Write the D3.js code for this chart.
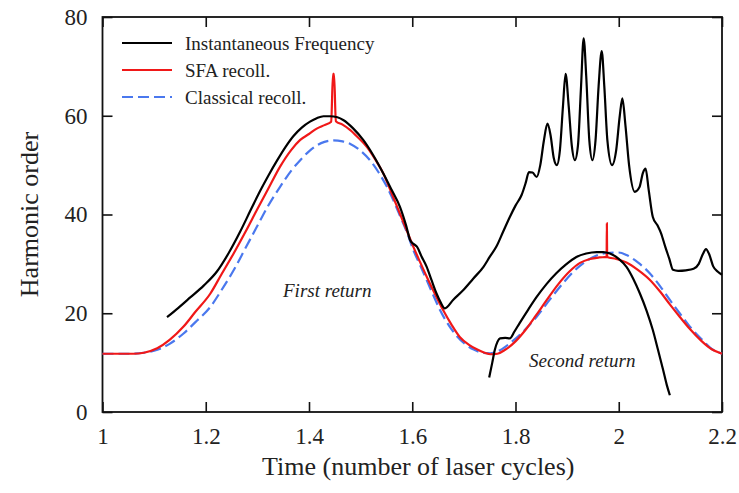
<!DOCTYPE html>
<html>
<head>
<meta charset="utf-8">
<script src="https://cdn.jsdelivr.net/npm/d3@7/dist/d3.min.js"></script>
<style>
  html, body { margin: 0; padding: 0; background: #fff; }
  svg { display: block; }
</style>
</head>
<body>
<svg id="chart" width="739" height="493"></svg>
<script>
// Instantaneous frequency, first branch (time in laser cycles, harmonic order)
const freqFirstT = [1.125,1.147,1.170,1.196,1.222,1.245,1.267,1.287,1.306,1.322,1.338,1.354,1.370,1.386,1.402,1.415,1.428,1.441,1.455,1.467,1.485,1.505,1.525,1.544,1.560,1.576,1.588,1.596,1.603,1.609,1.618,1.628,1.637,1.647,1.655,1.663,1.680,1.699,1.718,1.738,1.750,1.763,1.776,1.789,1.800,1.812,1.820,1.826,1.833,1.841,1.848,1.855,1.862,1.868,1.874,1.880,1.886,1.892,1.897,1.903,1.909,1.915,1.921,1.927,1.932,1.937,1.943,1.949,1.955,1.961,1.967,1.972,1.978,1.987,1.995,2.002,2.007,2.013,2.020,2.031,2.040,2.047,2.052,2.058,2.066,2.075,2.082,2.090,2.098,2.105,2.115,2.130,2.145,2.155,2.163,2.169,2.175,2.183,2.192,2.200];
const freqFirstH = [19.2,21.1,23.2,25.6,28.5,32.3,36.6,40.9,44.9,48.0,50.9,53.6,55.9,57.6,58.8,59.5,59.9,59.9,59.7,59.1,57.5,55.1,51.9,48.3,45.0,41.6,37.8,34.8,34.0,33.5,31.5,29.4,26.8,24.0,22.2,21.0,22.8,24.7,27.0,29.4,31.4,33.5,36.5,39.5,41.8,44.0,46.5,48.6,48.5,47.6,50.0,55.0,58.4,56.0,51.5,50.0,53.0,62.0,68.5,62.0,54.0,51.0,54.0,66.0,75.7,68.0,55.0,51.0,55.0,66.0,73.1,66.0,55.0,50.0,53.0,60.0,63.5,58.0,50.0,44.6,45.5,48.5,49.3,45.0,39.5,37.8,36.2,33.5,31.0,28.8,28.6,28.7,29.0,30.0,32.0,33.0,32.0,29.5,28.4,27.8];

// Instantaneous frequency, second branch
const freqSecondT = [1.749,1.755,1.760,1.765,1.770,1.780,1.789,1.798,1.808,1.825,1.841,1.860,1.879,1.898,1.918,1.937,1.957,1.970,1.983,2.000,2.015,2.028,2.041,2.054,2.066,2.076,2.086,2.093,2.099];
const freqSecondH = [7.0,10.0,12.6,14.2,14.9,15.0,14.9,16.3,18.0,20.8,23.3,25.9,28.1,29.9,31.4,32.1,32.4,32.4,32.1,31.0,29.4,27.0,24.0,20.5,16.6,12.6,8.5,5.5,3.4];

// SFA recollision energies
const sfaT = [1.000,1.060,1.080,1.106,1.130,1.157,1.180,1.209,1.230,1.254,1.277,1.299,1.320,1.344,1.365,1.383,1.400,1.415,1.430,1.443,1.4465,1.4485,1.452,1.465,1.480,1.495,1.512,1.528,1.544,1.560,1.576,1.590,1.602,1.615,1.628,1.645,1.660,1.676,1.692,1.710,1.725,1.740,1.752,1.765,1.780,1.800,1.820,1.840,1.860,1.883,1.905,1.925,1.944,1.962,1.9765,1.977,1.9775,1.995,2.015,2.037,2.060,2.080,2.099,2.118,2.137,2.160,2.180,2.200];
const sfaH = [11.8,11.8,12.0,12.9,14.6,17.3,20.3,24.0,27.8,32.1,36.5,40.9,45.0,49.7,53.0,55.1,56.3,57.4,58.1,58.8,68.5,68.5,58.9,58.2,57.1,55.6,53.7,51.2,48.3,44.3,40.2,36.6,33.5,30.4,27.4,23.7,20.6,17.7,15.2,13.6,12.7,12.0,11.7,11.8,12.6,14.3,16.7,19.6,22.6,25.9,28.5,30.2,31.0,31.3,31.4,38.2,31.4,31.0,30.3,28.8,26.8,24.4,21.8,19.3,16.9,14.4,12.7,11.8];

// Classical recollision energies
const classicalT = [1.000,1.050,1.080,1.100,1.130,1.157,1.180,1.209,1.230,1.254,1.277,1.299,1.320,1.344,1.365,1.383,1.400,1.415,1.430,1.447,1.465,1.480,1.500,1.518,1.535,1.551,1.565,1.576,1.590,1.602,1.615,1.628,1.641,1.654,1.670,1.686,1.702,1.718,1.737,1.751,1.770,1.789,1.815,1.841,1.866,1.892,1.912,1.931,1.955,1.982,2.000,2.015,2.037,2.060,2.080,2.099,2.118,2.137,2.160,2.180,2.200];
const classicalH = [11.8,11.8,12.0,12.4,13.8,15.9,18.2,21.3,24.6,28.7,33.2,37.5,41.6,45.6,48.8,51.0,52.8,54.0,54.7,55.0,54.8,54.3,52.9,51.0,48.5,45.6,42.5,39.8,36.3,32.8,29.8,26.7,23.6,20.6,17.7,15.4,13.8,12.7,12.0,11.9,12.5,13.9,16.3,19.3,22.7,26.1,28.4,30.1,31.6,32.25,32.3,31.8,30.3,28.1,25.5,22.7,20.0,17.4,14.8,12.8,11.8];

// Axis ticks and legend entries
const xTicks = [1, 1.2, 1.4, 1.6, 1.8, 2, 2.2];
const yTicks = [0, 20, 40, 60, 80];
const legendLabels = ["Instantaneous Frequency", "SFA recoll.", "Classical recoll."];
const legendColors = ["#000000", "#f01818", "#4a78ee"];

const FONT = "'Liberation Serif', Tinos, serif";
const TEXT_FILL = "#222";
const svg = d3.select("#chart");
const W = 739, H = 493;
const m = { left: 102.5, right: 722, top: 17, bottom: 412 };

svg.append("rect").attr("width", W).attr("height", H).attr("fill", "#fff");

const x = d3.scaleLinear().domain([1, 2.2]).range([m.left, m.right]);
const y = d3.scaleLinear().domain([0, 80]).range([m.bottom, m.top]);

// Bottom axis with labels, ticks pointing inward
const gx = svg.append("g").attr("transform", `translate(0,${m.bottom})`)
  .call(d3.axisBottom(x).tickValues(xTicks).tickFormat(d3.format("")).tickSizeInner(-10).tickSizeOuter(0).tickPadding(16));
// Top mirror ticks
const gxt = svg.append("g").attr("transform", `translate(0,${m.top})`)
  .call(d3.axisTop(x).tickValues(xTicks).tickFormat("").tickSizeInner(-10).tickSizeOuter(0));
// Left axis with labels
const gy = svg.append("g").attr("transform", `translate(${m.left},0)`)
  .call(d3.axisLeft(y).tickValues(yTicks).tickSizeInner(-10).tickSizeOuter(0).tickPadding(15));
// Right mirror ticks
const gyr = svg.append("g").attr("transform", `translate(${m.right},0)`)
  .call(d3.axisRight(y).tickValues(yTicks).tickFormat("").tickSizeInner(-10).tickSizeOuter(0));

[gx, gxt, gy, gyr].forEach(g => {
  g.attr("font-family", FONT).attr("font-size", 23);
  g.select(".domain").remove();
  g.selectAll(".tick line").attr("stroke", "#111").attr("stroke-width", 1.6);
  g.selectAll(".tick text").attr("fill", TEXT_FILL);
});

// Frame
svg.append("rect")
  .attr("x", m.left).attr("y", m.top)
  .attr("width", m.right - m.left).attr("height", m.bottom - m.top)
  .attr("fill", "none").attr("stroke", "#111").attr("stroke-width", 1.8);

const line = d3.line().x(d => x(d[0])).y(d => y(d[1])).curve(d3.curveMonotoneX);
const zip = (a, b) => a.map((v, i) => [v, b[i]]);

const plot = svg.append("g");

plot.append("path").datum(zip(classicalT, classicalH)).attr("d", line)
  .attr("fill", "none").attr("stroke", legendColors[2]).attr("stroke-width", 2.2)
  .attr("stroke-dasharray", "11,5");
plot.append("path").datum(zip(sfaT, sfaH)).attr("d", line)
  .attr("fill", "none").attr("stroke", legendColors[1]).attr("stroke-width", 2.2);
plot.append("path").datum(zip(freqFirstT, freqFirstH)).attr("d", line)
  .attr("fill", "none").attr("stroke", legendColors[0]).attr("stroke-width", 2.2)
  .attr("stroke-linejoin", "round");
plot.append("path").datum(zip(freqSecondT, freqSecondH)).attr("d", line)
  .attr("fill", "none").attr("stroke", legendColors[0]).attr("stroke-width", 2.2)
  .attr("stroke-linejoin", "round");

// Legend
const lg = svg.append("g").attr("font-family", FONT);
legendLabels.forEach((lab, i) => {
  const ly = 43 + i * 27;
  lg.append("line").attr("x1", 122).attr("x2", 172).attr("y1", ly).attr("y2", ly)
    .attr("stroke", legendColors[i]).attr("stroke-width", 2.2)
    .attr("stroke-dasharray", i === 2 ? "11,5" : null);
  lg.append("text").attr("x", 185).attr("y", ly).attr("dy", "0.35em")
    .attr("font-family", FONT).attr("font-size", 19).attr("fill", TEXT_FILL).text(lab);
});

// Annotations
svg.append("text").attr("x", 283).attr("y", 297).attr("font-size", 19)
  .attr("font-family", FONT).attr("font-style", "italic").attr("fill", TEXT_FILL).text("First return");
svg.append("text").attr("x", 529).attr("y", 367).attr("font-size", 19)
  .attr("font-family", FONT).attr("font-style", "italic").attr("fill", TEXT_FILL).text("Second return");

// Axis titles
svg.append("text").attr("x", (m.left + m.right) / 2 + 6).attr("y", 475)
  .attr("font-family", FONT).attr("fill", TEXT_FILL).attr("text-anchor", "middle").attr("font-size", 26)
  .text("Time (number of laser cycles)");
svg.append("text").attr("transform", `translate(38,${(m.top + m.bottom) / 2}) rotate(-90)`)
  .attr("font-family", FONT).attr("fill", TEXT_FILL).attr("text-anchor", "middle").attr("font-size", 26)
  .text("Harmonic order");
</script>
</body>
</html>
